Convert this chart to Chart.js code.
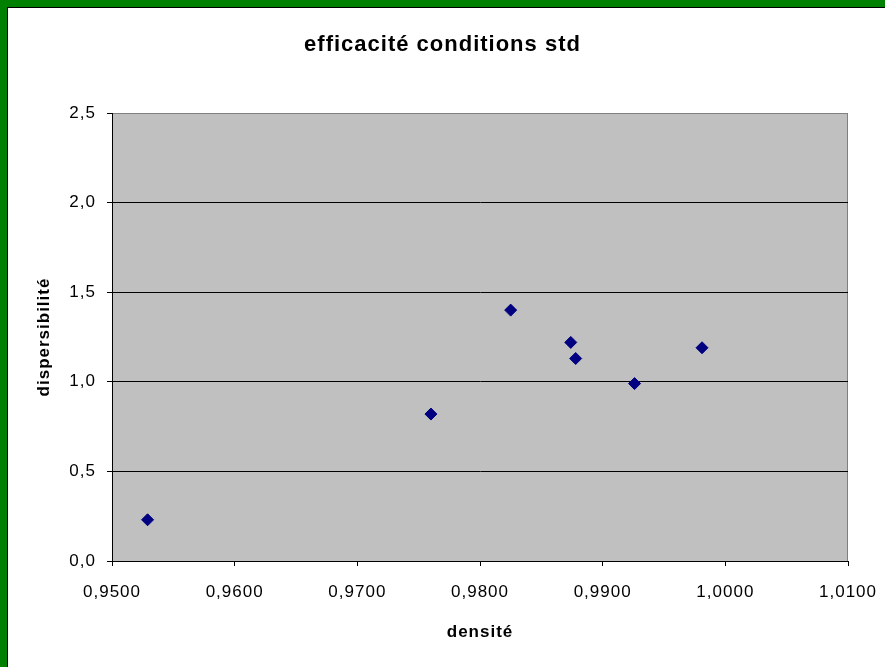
<!DOCTYPE html>
<html>
<head>
<meta charset="utf-8">
<title>efficacité conditions std</title>
<script src="https://cdn.jsdelivr.net/npm/chart.js@4/dist/chart.umd.min.js"></script>
<style>
    body { margin: 0; background: #fff; }
    #wrap { position: relative; width: 885px; height: 667px; }
    #frame {
        position: absolute; left: 0; top: 0; width: 885px; height: 667px;
        box-sizing: border-box;
        border-top: 7px solid #008000; border-left: 7px solid #008000;
        box-shadow: inset 1px 1px 0 #000;
        pointer-events: none;
    }
</style>
</head>
<body>
<div id="wrap">
    <canvas id="chart" width="885" height="667"></canvas>
    <div id="frame"></div>
</div>
<script>
const density = [0.9529, 0.9760, 0.9825, 0.9874, 0.9878, 0.9926, 0.9981];
const dispersibility = [0.23, 0.82, 1.40, 1.22, 1.13, 0.99, 1.19];

const xTicks = [0.95, 0.96, 0.97, 0.98, 0.99, 1.00, 1.01];
const xTickLabels = ['0,9500', '0,9600', '0,9700', '0,9800', '0,9900', '1,0000', '1,0100'];
const yTicks = [0, 0.5, 1.0, 1.5, 2.0, 2.5];
const yTickLabels = ['0,0', '0,5', '1,0', '1,5', '2,0', '2,5'];

const FONT = "'Liberation Sans', Arial, sans-serif";

// slightly wide glyph spacing on all canvas text
const spacing = {
    id: 'spacing',
    beforeLayout(chart) { chart.ctx.letterSpacing = '1px'; },
    beforeDraw(chart) { chart.ctx.letterSpacing = '1px'; }
};

// grey plot area with a grey frame on top and right
const plotBg = {
    id: 'plotBg',
    beforeDraw(chart) {
        const { ctx, chartArea: a } = chart;
        ctx.save();
        ctx.fillStyle = '#c0c0c0';
        ctx.fillRect(a.left, a.top, a.right - a.left, a.bottom - a.top);
        ctx.strokeStyle = '#808080';
        ctx.lineWidth = 1;
        ctx.beginPath();
        ctx.moveTo(a.left, a.top + 0.5);
        ctx.lineTo(a.right - 0.5, a.top + 0.5);
        ctx.lineTo(a.right - 0.5, a.bottom);
        ctx.stroke();
        ctx.restore();
    }
};

new Chart(document.getElementById('chart'), {
    type: 'scatter',
    data: {
        datasets: [{
            data: density.map((d, i) => ({ x: d, y: dispersibility[i] })),
            pointStyle: 'rectRot',
            pointRadius: 6,
            backgroundColor: '#000080',
            borderColor: '#000080',
            borderWidth: 1
        }]
    },
    options: {
        responsive: false,
        animation: false,
        layout: { padding: 0 },
        plugins: {
            legend: { display: false },
            tooltip: { enabled: false },
            title: {
                display: true,
                text: 'efficacité conditions std',
                color: '#000',
                font: { family: FONT, size: 22, weight: 'bold' },
                padding: { top: 32, bottom: 54.6 }
            }
        },
        scales: {
            x: {
                type: 'linear',
                min: 0.95,
                max: 1.01,
                afterBuildTicks(scale) { scale.ticks = xTicks.map(v => ({ value: v })); },
                afterFit(scale) {
                    // room on the right for the last label, plot ends at x=848
                    scale.height = 106;
                    scale.paddingLeft = 0;
                    scale.paddingRight = 37;
                },
                ticks: {
                    color: '#000',
                    font: { family: FONT, size: 17 },
                    padding: 16,
                    maxRotation: 0,
                    callback: (v, i) => xTickLabels[i]
                },
                grid: { drawOnChartArea: false, drawTicks: true, tickLength: 5, tickColor: '#000' },
                border: { display: true, color: '#000', width: 1 },
                title: {
                    display: true,
                    text: 'densité',
                    color: '#000',
                    font: { family: FONT, size: 17, weight: 'bold' },
                    padding: { top: 0, bottom: 24 }
                }
            },
            y: {
                type: 'linear',
                min: 0,
                max: 2.5,
                afterBuildTicks(scale) { scale.ticks = yTicks.map(v => ({ value: v })); },
                afterFit(scale) {
                    scale.width = 112;
                    scale.paddingTop = 0;
                    scale.paddingBottom = 0;
                },
                ticks: {
                    color: '#000',
                    font: { family: FONT, size: 17 },
                    padding: 11,
                    callback: (v, i) => yTickLabels[i]
                },
                grid: {
                    color: ctx => (ctx.tick && ctx.tick.value === 2.5) ? '#808080' : '#000',
                    tickColor: '#000',
                    tickLength: 5,
                    lineWidth: 1
                },
                border: { display: true, color: '#000', width: 1 },
                title: {
                    display: true,
                    text: 'dispersibilité',
                    color: '#000',
                    font: { family: FONT, size: 17, weight: 'bold' },
                    padding: { top: 34, bottom: 0 }
                }
            }
        }
    },
    plugins: [spacing, plotBg]
});
</script>
</body>
</html>
